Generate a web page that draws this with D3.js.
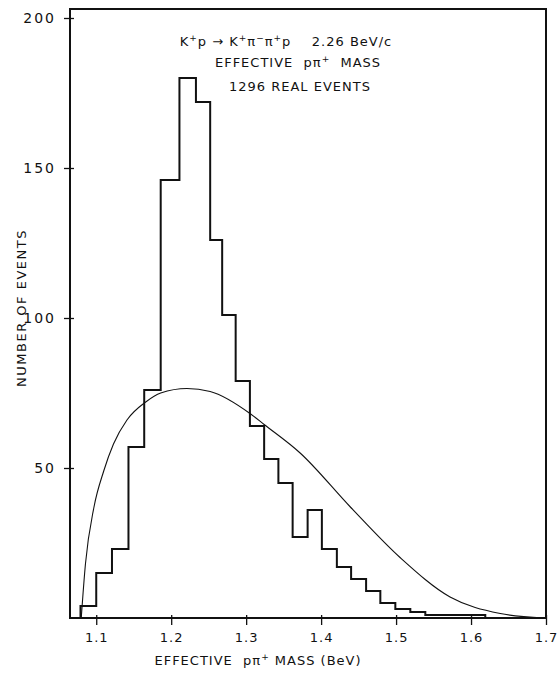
<!DOCTYPE html>
<html>
<head>
<meta charset="utf-8">
<script src="https://cdn.jsdelivr.net/npm/d3@7"></script>
<style>
  body { margin: 0; background: #fff; }
  text { font-family: "DejaVu Sans", sans-serif; fill: #111; }
</style>
</head>
<body>
<script>
// histogram: bin edges (BeV) as drawn on the plot (hand drawn, not quite even)
var binEdges = [1.079, 1.100, 1.121, 1.143, 1.164, 1.186, 1.211, 1.233, 1.252, 1.268,
                1.286, 1.305, 1.324, 1.343, 1.362, 1.382, 1.401, 1.421, 1.440, 1.460,
                1.479, 1.499, 1.519, 1.539, 1.559, 1.579, 1.599, 1.619];
// number of events in each bin
var counts   = [4, 15, 23, 57, 76, 146, 180, 172, 126, 101,
                79, 64, 53, 45, 27, 36, 23, 17, 13, 9,
                5, 3, 2, 1, 1, 1, 1];

// phase space curve
var curveMass   = [1.080, 1.0856, 1.097, 1.110, 1.123, 1.141, 1.166, 1.186, 1.221,
                   1.252, 1.306, 1.324, 1.372, 1.439, 1.506, 1.572, 1.639, 1.697];
var curveEvents = [0, 18, 37, 49, 58, 66, 72, 75, 76.5,
                   75.5, 68, 64.5, 55, 37, 20, 7, 1.5, 0];

var xTicks = [1.1, 1.2, 1.3, 1.4, 1.5, 1.6, 1.7];
var yTicks = [50, 100, 150, 200];

var w = 557, h = 675;
var pLeft = 70, pRight = 546, pTop = 9, pBottom = 618;

var svg = d3.select("body").append("svg").attr("width", w).attr("height", h);

var x = d3.scaleLinear().domain([1.065, 1.7]).range([pLeft, pRight]);
var y = d3.scaleLinear().domain([0, 203]).range([pBottom, pTop]);

// frame
svg.append("rect")
  .attr("x", pLeft).attr("y", pTop)
  .attr("width", pRight - pLeft).attr("height", pBottom - pTop)
  .attr("fill", "none").attr("stroke", "#111").attr("stroke-width", 2);

// x axis
var xAxis = svg.append("g")
  .attr("transform", "translate(0," + pBottom + ")")
  .call(d3.axisBottom(x).tickValues(xTicks).tickSize(7).tickPadding(8)
    .tickFormat(d3.format(".1f")));
xAxis.select(".domain").remove();
xAxis.selectAll("line").attr("y1", -3).attr("stroke", "#111").attr("stroke-width", 1.3);
xAxis.selectAll("text").style("font-size", "13px").style("letter-spacing", "1px");

// y axis
var yAxis = svg.append("g")
  .attr("transform", "translate(" + pLeft + ",0)")
  .call(d3.axisLeft(y).tickValues(yTicks).tickSize(6).tickPadding(8));
yAxis.select(".domain").remove();
yAxis.selectAll("line").attr("x1", 4).attr("x2", -6).attr("stroke", "#111").attr("stroke-width", 1.3);
yAxis.selectAll("text").style("font-size", "14px").style("letter-spacing", "2px");

// histogram outline
var pts = [[binEdges[0], 0]];
counts.forEach(function(c, i) {
  pts.push([binEdges[i], c]);
  pts.push([binEdges[i + 1], c]);
});
pts.push([binEdges[binEdges.length - 1], 0]);

var line = d3.line()
  .x(function(d) { return x(d[0]); })
  .y(function(d) { return y(d[1]); });

svg.append("path")
  .attr("d", line(pts))
  .attr("fill", "none")
  .attr("stroke", "#111")
  .attr("stroke-width", 2);

// phase space curve
var curvePts = curveMass.map(function(m, i) { return [m, curveEvents[i]]; });
svg.append("path")
  .attr("d", line.curve(d3.curveMonotoneX)(curvePts))
  .attr("fill", "none")
  .attr("stroke", "#111")
  .attr("stroke-width", 1.1);

// titles
var title = svg.append("g").attr("text-anchor", "middle").style("font-size", "13px")
  .style("letter-spacing", "1px");
title.append("text").attr("x", 286).attr("y", 46)
  .html('K<tspan dy="-5" font-size="9">+</tspan><tspan dy="5">p \u2192 K</tspan><tspan dy="-5" font-size="9">+</tspan><tspan dy="5">\u03c0</tspan><tspan dy="-5" font-size="9">\u2212</tspan><tspan dy="5">\u03c0</tspan><tspan dy="-5" font-size="9">+</tspan><tspan dy="5">p\u00a0\u00a0\u00a0\u00a02.26 BeV/c</tspan>');
title.append("text").attr("x", 298).attr("y", 67)
  .html('EFFECTIVE\u00a0\u00a0p\u03c0<tspan dy="-5" font-size="9">+</tspan><tspan dy="5">\u00a0\u00a0MASS</tspan>');
title.append("text").attr("x", 300).attr("y", 91)
  .text("1296 REAL EVENTS");

// axis labels
svg.append("text")
  .attr("x", 258).attr("y", 665)
  .attr("text-anchor", "middle")
  .style("font-size", "13px").style("letter-spacing", "1px")
  .html('EFFECTIVE\u00a0\u00a0p\u03c0<tspan dy="-5" font-size="9">+</tspan><tspan dy="5">\u00a0MASS (BeV)</tspan>');

svg.append("text")
  .attr("transform", "translate(26,308) rotate(-90)")
  .attr("text-anchor", "middle")
  .style("font-size", "13px").style("letter-spacing", "1.5px")
  .text("NUMBER OF EVENTS");
</script>
</body>
</html>
